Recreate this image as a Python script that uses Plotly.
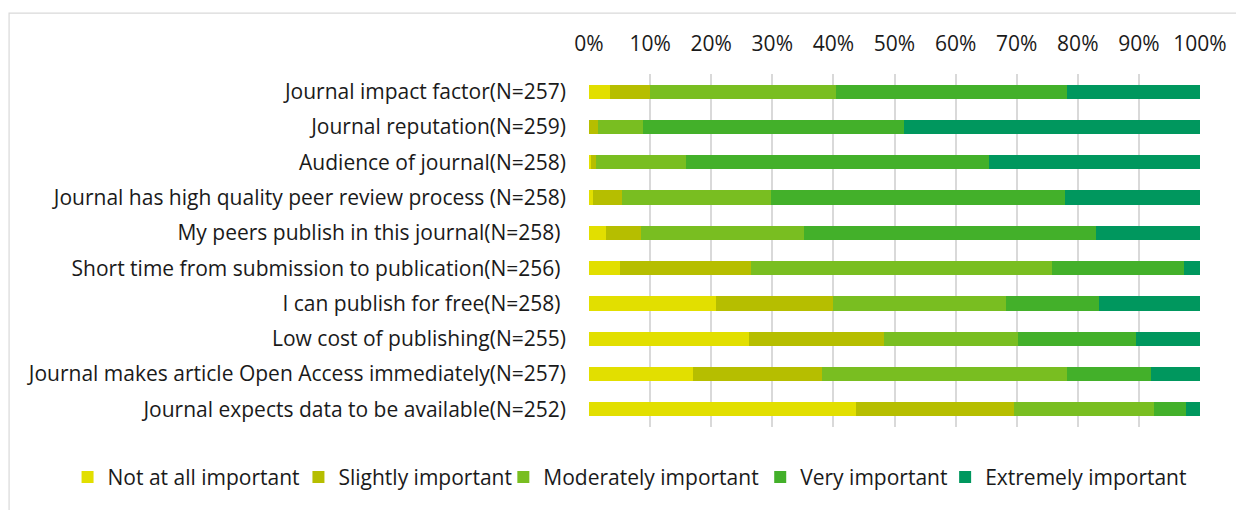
import plotly.graph_objects as go

categories = [
    "Journal impact factor(N=257)",
    "Journal reputation(N=259)",
    "Audience of journal(N=258)",
    "Journal has high quality peer review process (N=258)",
    "My peers publish in this journal(N=258) ",
    "Short time from submission to publication(N=256) ",
    "I can publish for free(N=258) ",
    "Low cost of publishing(N=255)",
    "Journal makes article Open Access immediately(N=257)",
    "Journal expects data to be available(N=252)",
]

series_names = ["Not at all important", "Slightly important", "Moderately important",
                "Very important", "Extremely important"]

not_at_all = [3.5, 0.0, 0.4, 0.6, 2.7, 5.0, 20.8, 26.2, 17.1, 43.7]
slightly = [6.5, 1.5, 0.7, 4.8, 5.8, 21.5, 19.1, 22.1, 21.0, 25.8]
moderately = [30.4, 7.3, 14.8, 24.4, 26.7, 49.2, 28.3, 21.9, 40.1, 23.0]
very = [37.8, 42.8, 49.6, 48.1, 47.7, 21.6, 15.2, 19.3, 13.7, 5.2]
extremely = [21.8, 48.4, 34.5, 22.1, 17.1, 2.7, 16.6, 10.5, 8.1, 2.3]

colors = ["#E2DF00", "#B6BE00", "#79BE21", "#43B02A", "#00975E"]

tick_vals = [0, 10, 20, 30, 40, 50, 60, 70, 80, 90, 100]
tick_text = ["0%", "10%", "20%", "30%", "40%", "50%", "60%", "70%", "80%", "90%", "100%"]

FONT = "Open Sans"
FS = 21
TXT = "#1a1a1a"

# figure pixel geometry (page body has an 8px margin)
W, H = 1236, 502
L, R, T, B = 580.7, 44, 65.5, 82.6
pw, ph = W - L - R, H - T - B

def px_to_paper_x(px):
    return (px - L) / pw

def px_to_paper_y(py):
    return (H - B - py) / ph

legend_ids = ["legend", "legend2", "legend3", "legend4", "legend5"]
legend_marker_left = [76, 307, 512, 769, 954]  # figure px of swatch left edge
LEG_OFFSET = 17
LEG_Y = 470

fig = go.Figure()
for name, vals, col, lid in zip(series_names, [not_at_all, slightly, moderately, very, extremely], colors, legend_ids):
    fig.add_trace(go.Bar(
        y=categories, x=vals, name=name, orientation="h",
        marker=dict(color=col, line=dict(width=0)),
        legend=lid,
    ))

legend_layouts = {}
for lid, mx in zip(legend_ids, legend_marker_left):
    legend_layouts[lid] = dict(
        orientation="h", x=px_to_paper_x(mx - LEG_OFFSET), xanchor="left",
        y=px_to_paper_y(LEG_Y), yanchor="middle",
        font=dict(family=FONT, size=FS, color=TXT),
        bgcolor="rgba(0,0,0,0)", borderwidth=0,
        itemclick=False, itemdoubleclick=False,
    )

fig.update_layout(
    width=W, height=H,
    barmode="stack",
    bargap=0.6,
    margin=dict(l=L, r=R, t=T, b=B, pad=0, autoexpand=False),
    paper_bgcolor="white",
    plot_bgcolor="white",
    font=dict(family=FONT, size=FS, color=TXT),
    showlegend=True,
    xaxis=dict(
        side="top", range=[0, 100], tickvals=tick_vals, ticktext=tick_text,
        showgrid=True, gridcolor="#D9D9D9", gridwidth=2,
        zeroline=False, showline=False, ticks="", ticklabelstandoff=18,
        tickfont=dict(family=FONT, size=FS, color=TXT),
        fixedrange=True,
    ),
    yaxis=dict(
        autorange="reversed", showgrid=False, zeroline=False, showline=False,
        ticks="", ticklabelstandoff=22,
        tickfont=dict(family=FONT, size=FS, color=TXT),
    ),
    shapes=[dict(
        type="rect", xref="paper", yref="paper",
        x0=px_to_paper_x(0.5), x1=px_to_paper_x(1260),
        y0=px_to_paper_y(530), y1=px_to_paper_y(4.5),
        line=dict(color="#D9D9D9", width=1.2), fillcolor="rgba(0,0,0,0)", layer="below",
    )],
    **legend_layouts,
)

fig.write_html("out.html")
